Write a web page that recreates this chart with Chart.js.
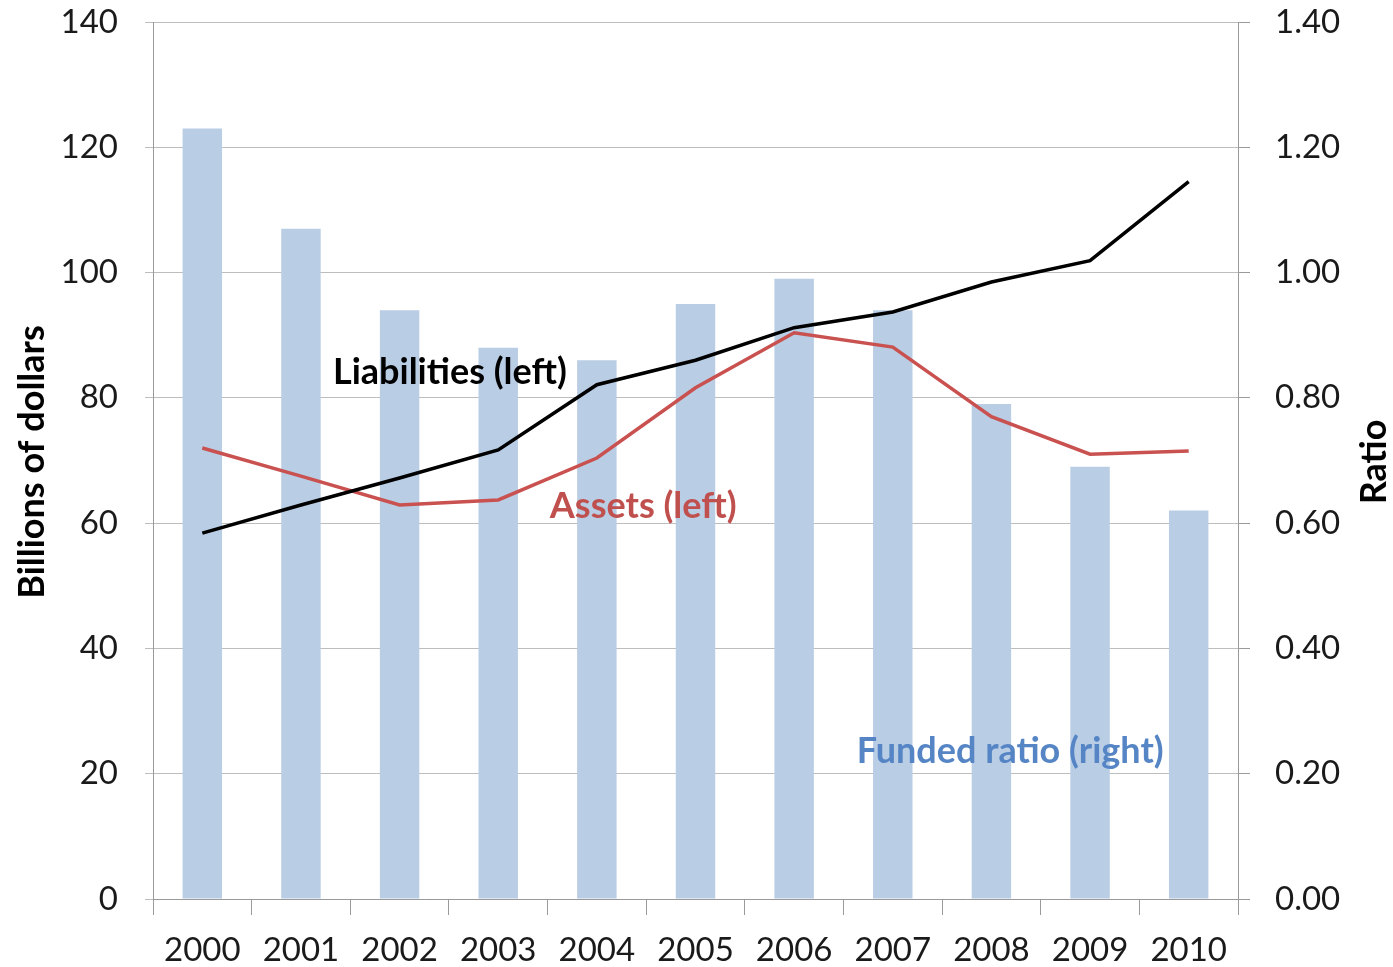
<!DOCTYPE html>
<html>
<head>
<meta charset="utf-8">
<script src="https://cdn.jsdelivr.net/npm/chart.js@4.4.0/dist/chart.umd.min.js"></script>
<style>
  body { margin: 0; background: #fff; }
  canvas { display: block; }
</style>
</head>
<body>
<canvas id="fundChart" width="1393" height="967"></canvas>
<script>
const years = ["2000", "2001", "2002", "2003", "2004", "2005", "2006", "2007", "2008", "2009", "2010"];
const liabilities = [58.4, 62.9, 67.2, 71.7, 82.1, 86.0, 91.2, 93.7, 98.5, 101.9, 114.5];
const assets = [72.0, 67.5, 62.9, 63.7, 70.4, 81.6, 90.4, 88.1, 77.0, 71.0, 71.5];
const fundedRatio = [1.23, 1.07, 0.94, 0.88, 0.86, 0.95, 0.99, 0.94, 0.79, 0.69, 0.62];

const FONT = "Lato";
const axisGray = "#9a9a9a";

// in-chart series labels, placed in data coordinates
const seriesLabels = [
    { text: "Liabilities (left)", x: 2.51, y: 84, color: "#000000" },
    { text: "Assets (left)", x: 4.47, y: 62.6, color: "#c0504d" },
    { text: "Funded ratio (right)", x: 8.19, y: 23.5, color: "#5585c4" }
];

const labelPlugin = {
    id: "labels",
    afterDatasetsDraw(chart) {
        const ctx = chart.ctx;
        const xs = chart.scales.x, ys = chart.scales.y;
        ctx.save();
        ctx.font = "bold 36px " + FONT;
        ctx.textAlign = "center";
        ctx.textBaseline = "middle";
        seriesLabels.forEach(l => {
            ctx.fillStyle = l.color;
            ctx.fillText(l.text, xs.getPixelForValue(l.x), ys.getPixelForValue(l.y));
        });

        // axis titles, both reading bottom to top
        ctx.fillStyle = "#000";
        ctx.font = "bold 36px " + FONT;
        const midY = 462;
        ctx.translate(32, midY);
        ctx.rotate(-Math.PI / 2);
        ctx.fillText("Billions of dollars", 0, 0);
        ctx.rotate(Math.PI / 2);
        ctx.translate(1374 - 32, 0);
        ctx.rotate(-Math.PI / 2);
        ctx.fillText("Ratio", 0, 0);
        ctx.restore();
    }
};

// fix axis sizes so the plot area sits where the original one does
function fitY(width) {
    return s => {
        s.width = width;
        s.paddingTop = 0;
        s.paddingBottom = 0;
    };
}

new Chart(document.getElementById("fundChart"), {
    data: {
        labels: years,
        datasets: [
            {
                type: "line",
                label: "Liabilities (left)",
                data: liabilities,
                yAxisID: "y",
                borderColor: "#000000",
                borderWidth: 3.5,
                pointRadius: 0,
                order: 0
            },
            {
                type: "line",
                label: "Assets (left)",
                data: assets,
                yAxisID: "y",
                borderColor: "#c9514f",
                borderWidth: 3.5,
                pointRadius: 0,
                order: 0
            },
            {
                type: "bar",
                label: "Funded ratio (right)",
                data: fundedRatio,
                yAxisID: "y1",
                backgroundColor: "#b9cde5",
                barPercentage: 0.4,
                categoryPercentage: 1,
                order: 1
            }
        ]
    },
    options: {
        responsive: false,
        animation: false,
        layout: { padding: { top: 22, left: 0, right: 0, bottom: 0 } },
        plugins: {
            legend: { display: false },
            tooltip: { enabled: false }
        },
        scales: {
            x: {
                offset: true,
                grid: { offset: true, drawOnChartArea: false, tickLength: 16, color: axisGray },
                border: { color: axisGray },
                ticks: { font: { family: FONT, size: 33 }, color: "#1a1a1a", padding: 16, maxRotation: 0 },
                afterFit: s => { s.height = 68; }
            },
            y: {
                position: "left",
                min: 0,
                max: 140,
                ticks: { stepSize: 20, font: { family: FONT, size: 33 }, color: "#1a1a1a", padding: 27 },
                grid: { color: "#bdbdbd", tickLength: 8 },
                border: { color: axisGray },
                afterFit: fitY(153)
            },
            y1: {
                position: "right",
                min: 0,
                max: 1.4,
                ticks: {
                    stepSize: 0.2,
                    font: { family: FONT, size: 33 },
                    color: "#1a1a1a",
                    padding: 25,
                    callback: v => v.toFixed(2)
                },
                grid: { drawOnChartArea: false, tickLength: 12, color: axisGray },
                border: { color: axisGray },
                afterFit: fitY(155)
            }
        }
    },
    plugins: [labelPlugin]
});
</script>
</body>
</html>
